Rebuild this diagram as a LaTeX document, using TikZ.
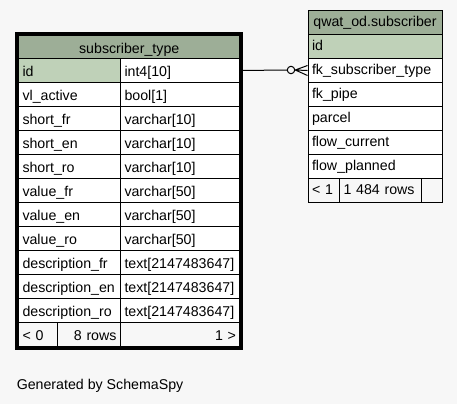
\documentclass[tikz,border=0pt]{standalone}
\usepackage{fontspec}
\setmainfont{Liberation Sans}
\definecolor{pagebg}{RGB}{247,247,247}
\definecolor{headgreen}{RGB}{157,174,151}
\definecolor{keygreen}{RGB}{191,209,184}

\begin{document}
\begin{tikzpicture}[x=0.75pt,y=-0.75pt]
    \tikzstyle{cell}=[draw=black, line width=0.75pt, fill=white, anchor=north west,
                      inner xsep=3pt, inner ysep=0pt, minimum height=18pt,
                      text height=9pt, text depth=0pt, font=\fontsize{10.65}{12}\selectfont]
    \tikzstyle{lname}=[cell, text width=70.5pt, align=left]
    \tikzstyle{ltype}=[cell, text width=83.6pt, align=left]
    \tikzstyle{rcell}=[cell, text width=94.5pt, align=left, text height=6pt]
    \tikzstyle{fkline}=[draw=black, line width=0.75pt]
    \useasboundingbox (0,0) rectangle (457,404);
    \fill[pagebg] (0,0) rectangle (457,404);

    % subscriber_type
    \node[cell, fill=headgreen, minimum width=166.1pt] (st-head) at (18,34.5) {subscriber\_type};
    \node[lname, fill=keygreen] (st-id)      at (18,58)  {id};
    \node[ltype] (st-idtype)                 at (120,58) {int4[10]};
    \node[lname] (st-active)                 at (18,82)  {vl\_active};
    \node[ltype] (st-activetype)             at (120,82) {bool[1]};
    \node[lname] (st-shortfr)                at (18,106) {short\_fr};
    \node[ltype] (st-shortfrtype)            at (120,106) {varchar[10]};
    \node[lname] (st-shorten)                at (18,130) {short\_en};
    \node[ltype] (st-shortentype)            at (120,130) {varchar[10]};
    \node[lname] (st-shortro)                at (18,154) {short\_ro};
    \node[ltype] (st-shortrotype)            at (120,154) {varchar[10]};
    \node[lname] (st-valuefr)                at (18,178) {value\_fr};
    \node[ltype] (st-valuefrtype)            at (120,178) {varchar[50]};
    \node[lname] (st-valueen)                at (18,202) {value\_en};
    \node[ltype] (st-valueentype)            at (120,202) {varchar[50]};
    \node[lname] (st-valuero)                at (18,226) {value\_ro};
    \node[ltype] (st-valuerotype)            at (120,226) {varchar[50]};
    \node[lname] (st-descfr)                 at (18,250) {description\_fr};
    \node[ltype] (st-descfrtype)             at (120,250) {text[2147483647]};
    \node[lname] (st-descen)                 at (18,274) {description\_en};
    \node[ltype] (st-descentype)             at (120,274) {text[2147483647]};
    \node[lname] (st-descro)                 at (18,298) {description\_ro};
    \node[ltype] (st-descrotype)             at (120,298) {text[2147483647]};
    \node[cell, fill=pagebg, text width=23.25pt, align=left]  (st-prev) at (18,322)  {< 0};
    \node[cell, fill=pagebg, text width=41.25pt, align=right] (st-rows) at (57,322)  {8 rows};
    \node[cell, fill=pagebg, text width=83.6pt, align=right]  (st-next) at (120,322) {1 >};
    \draw[line width=2.25pt] (16.5,33) rectangle (241,348);

    % qwat_od.subscriber
    \node[cell, fill=headgreen, minimum width=100.5pt, text height=6pt] (sub-head) at (307.5,10) {qwat\_od.subscriber};
    \node[rcell, fill=keygreen] (sub-id)  at (307.5,34)  {id};
    \node[rcell] (sub-fk)                 at (307.5,58)  {fk\_subscriber\_type};
    \node[rcell] (sub-pipe)               at (307.5,82)  {fk\_pipe};
    \node[rcell] (sub-parcel)             at (307.5,106) {parcel};
    \node[rcell] (sub-current)            at (307.5,130) {flow\_current};
    \node[rcell] (sub-planned)            at (307.5,154) {flow\_planned};
    \node[cell, fill=pagebg, text width=17.6pt, align=left, text height=6pt] (sub-prev) at (307.5,178) {< 1};
    \node[cell, fill=pagebg, text width=55.5pt, align=left, text height=6pt] (sub-rows) at (339,178)   {1 484 rows};
    \node[cell, fill=pagebg, text width=9.4pt, text height=6pt]              (sub-next) at (421,178)   {};

    % fk_subscriber_type -> id
    \node[circle, fkline, fill=pagebg, inner sep=0pt, minimum size=5.6pt] (ring) at (291,70) {};
    \draw[fkline] (st-idtype.east) -- (ring.west);
    \draw[fkline] (ring.east) -- ([yshift=3.75pt]sub-fk.west)
                  (ring.east) -- (sub-fk.west)
                  (ring.east) -- ([yshift=-3.75pt]sub-fk.west);

    \node[anchor=base west, inner sep=0pt, font=\fontsize{10.65}{12}\selectfont] (credit) at (16.5,389) {Generated by SchemaSpy};
\end{tikzpicture}
\end{document}
